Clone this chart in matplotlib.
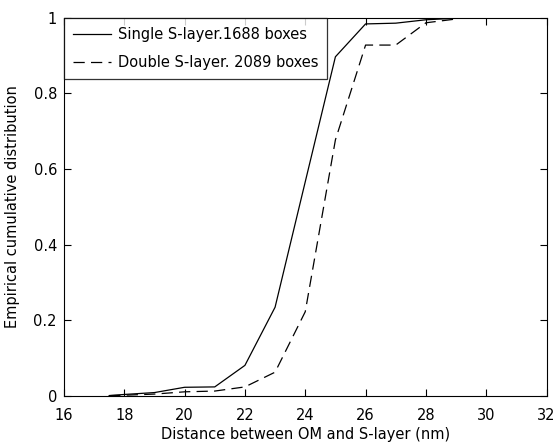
import matplotlib
matplotlib.use("Agg")
import matplotlib.pyplot as plt

plt.rcParams['font.family'] = 'DejaVu Sans'

# ECDF values
dist_single = [17.5, 18, 19, 20, 21, 22, 23, 24, 25, 26, 27, 28, 29, 29.2]
cdf_single = [0.0, 0.003, 0.008, 0.022, 0.023, 0.08, 0.234, 0.566, 0.897, 0.984, 0.986, 0.995, 0.999, 1.0]

dist_double = [17.5, 18, 19, 20, 21, 22, 23, 24, 25, 26, 27, 28, 29, 29.2]
cdf_double = [0.0, 0.001, 0.004, 0.01, 0.012, 0.023, 0.062, 0.222, 0.677, 0.928, 0.928, 0.987, 0.997, 1.0]

label_single = "Single S-layer.1688 boxes"
label_double = "Double S-layer. 2089 boxes"

fig = plt.figure(figsize=(5.56, 4.47), dpi=100)
ax = fig.add_axes([0.115, 0.115, 0.868, 0.845])

ax.plot(dist_single, cdf_single, color="black", lw=0.9, label=label_single)
ax.plot(dist_double, cdf_double, color="black", lw=0.9, dashes=(9, 5), label=label_double)

ax.set_xlim(16, 32)
ax.set_ylim(0, 1)
ax.set_xticks(range(16, 33, 2))
ax.set_yticks([0, 0.2, 0.4, 0.6, 0.8, 1])
ax.set_yticklabels(["0", "0.2", "0.4", "0.6", "0.8", "1"])
ax.tick_params(direction="in", top=True, right=True, length=5, width=0.8, labelsize=10.5)
ax.tick_params(axis="x", pad=9)
ax.tick_params(axis="y", pad=5)
for s in ax.spines.values():
    s.set_linewidth(0.8)

ax.set_xlabel("Distance between OM and S-layer (nm)", fontsize=10.5, labelpad=3)
ax.set_ylabel("Empirical cumulative distribution", fontsize=10.5, labelpad=10)

leg = ax.legend(loc="upper left", fontsize=10.5, frameon=True, fancybox=False,
                borderaxespad=0, handlelength=2.6, handletextpad=0.5,
                borderpad=0.6, labelspacing=0.9)
leg.get_frame().set_edgecolor("black")
leg.get_frame().set_linewidth(0.9)

fig.savefig("out.png", dpi=100)
